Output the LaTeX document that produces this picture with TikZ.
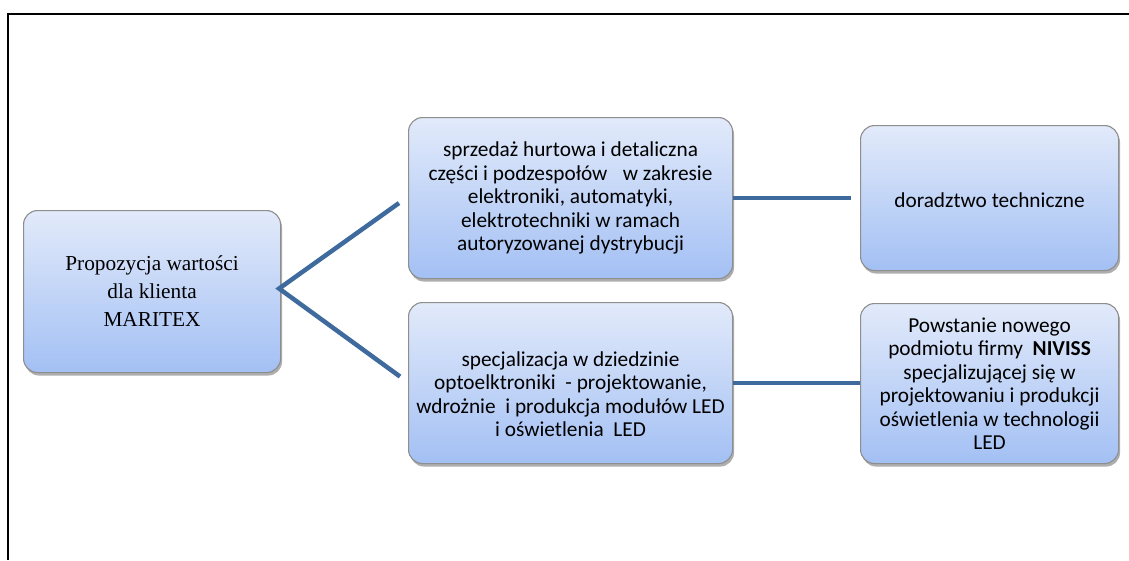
\documentclass[tikz,border=0pt]{standalone}
\usepackage{fontspec}
\setmainfont{Carlito}
\newfontfamily\serifff{Liberation Serif}
\usetikzlibrary{shadows,calc}
\definecolor{linkblue}{HTML}{3F6A9E}
\definecolor{boxtop}{HTML}{E2EAFA}
\definecolor{boxbot}{HTML}{A3C0F4}
\definecolor{boxedge}{HTML}{8E8E8E}
\newcommand{\btext}[3]{\parbox{#2}{\centering\vspace*{#1}#3}}
\begin{document}
\begin{tikzpicture}[x=1pt,y=-1pt,
  box/.style={draw=boxedge, line width=1.1pt, rounded corners=14pt,
    top color=boxtop, bottom color=boxbot, anchor=north west, inner sep=0pt,
    drop shadow={shadow xshift=1.5pt, shadow yshift=-3pt, opacity=0.45, fill=black!70},
    font=\fontsize{21.3}{23.5}\selectfont},
  link/.style={draw=linkblue, line width=4.5pt}]
\useasboundingbox (0,0) rectangle (1129,560);
\draw[line width=2pt] (8,560) -- (8,14) -- (1129,14);

\node[box, minimum width=257pt, minimum height=162pt] (b1) at (23,210)
  {\serifff\fontsize{21.3}{28}\selectfont\btext{0pt}{240pt}{Propozycja wartości\\dla klienta\\MARITEX}};
\node[box, minimum width=324pt, minimum height=161pt] (b2) at (408,117)
  {\btext{0pt}{320pt}{sprzedaż hurtowa i detaliczna\\części i podzespołów\enspace\ w zakresie\\elektroniki, automatyki,\\elektrotechniki w ramach\\autoryzowanej dystrybucji}};
\node[box, minimum width=324pt, minimum height=161pt] (b3) at (408,302)
  {\btext{22pt}{324pt}{specjalizacja w dziedzinie\\optoelktroniki\ \ - projektowanie,\\wdrożnie\ \ i produkcja modułów LED\\i oświetlenia\ \ LED}};
\node[box, minimum width=258pt, minimum height=145pt] (b4) at (860,125)
  {\btext{5pt}{250pt}{doradztwo techniczne}};
\node[box, minimum width=258pt, minimum height=160pt] (b5) at (860,303)
  {\btext{0pt}{254pt}{Powstanie nowego\\podmiotu firmy\ \ \textbf{NIVISS}\\specjalizującej się w\\projektowaniu i produkcji\\oświetlenia w technologii\\LED}};

\coordinate (v) at ($(b1.east)+(-2,-3)$);
\coordinate (u) at ($(b2.west)+(-9,5)$);
\coordinate (d) at ($(b3.west)+(-8,-6.5)$);
\coordinate (r) at ($(b4.west)+(-9,0)$);
\draw[link] (u) -- (v) -- (d);
\draw[link] (b2.east) -- (r);
\draw[link] (b3.east) -- (b3.east -| b5.west);
\end{tikzpicture}
\end{document}
